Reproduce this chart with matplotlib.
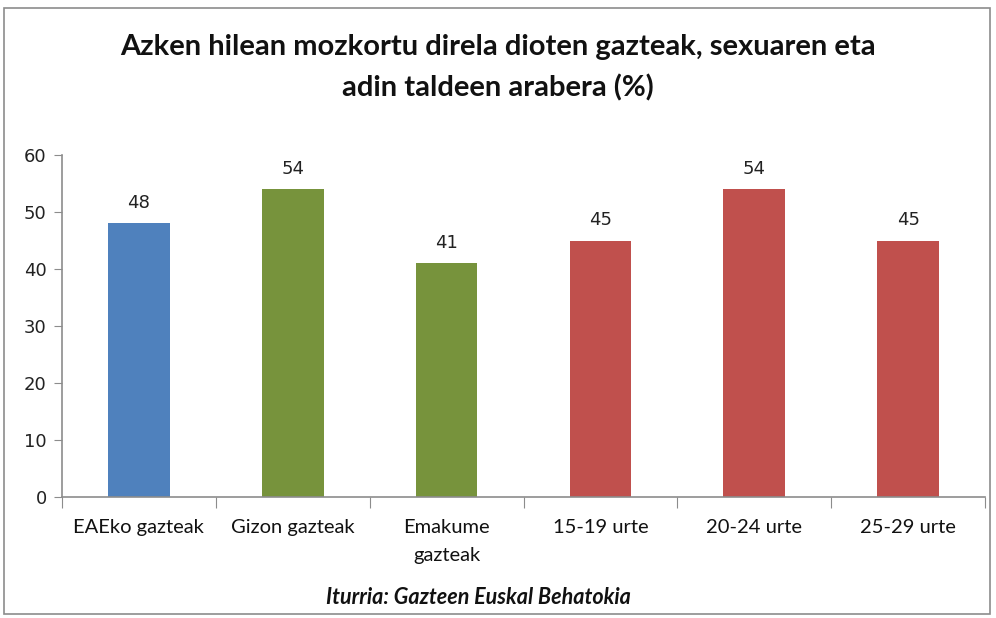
import matplotlib
matplotlib.use("Agg")
import matplotlib.pyplot as plt
from matplotlib.patches import Rectangle

categories = ["EAEko gazteak", "Gizon gazteak", "Emakume\ngazteak", "15-19 urte", "20-24 urte", "25-29 urte"]
values = [48, 54, 41, 45, 54, 45]
colors = ["#4F81BD", "#77933C", "#77933C", "#C0504D", "#C0504D", "#C0504D"]
yticks = [0, 10, 20, 30, 40, 50, 60]
title = "Azken hilean mozkortu direla dioten gazteak, sexuaren eta\nadin taldeen arabera (%)"
source = "Iturria: Gazteen Euskal Behatokia"

W, H = 996, 618
fig = plt.figure(figsize=(W / 100, H / 100), dpi=100)
fig.patch.set_facecolor("white")

# outer frame
fig.add_artist(Rectangle((4 / W, 4 / H), (W - 10) / W, (H - 12) / H, transform=fig.transFigure,
                         fill=False, edgecolor="#8c8c8c", linewidth=1.2))

x0, x1 = 62, 985
y0, y1 = 497, 155
ax = fig.add_axes([x0 / W, 1 - y0 / H, (x1 - x0) / W, (y0 - y1) / H])
pos = list(range(len(categories)))
ax.bar(pos, values, width=0.4, color=colors, zorder=2)
ax.set_xlim(-0.5, len(categories) - 0.5)
ax.set_ylim(0, 60)
ax.set_yticks(yticks)
ax.set_yticklabels([str(t) for t in yticks], fontsize=13, family="DejaVu Sans", color="#222222")

# category boundary ticks on x axis
ax.set_xticks([p - 0.5 for p in pos] + [len(categories) - 0.5])
ax.set_xticklabels([])
ax.tick_params(axis="x", length=8, color="#8c8c8c", direction="out")
ax.tick_params(axis="y", length=6, color="#8c8c8c", direction="out", pad=5)
for s in ["top", "right"]:
    ax.spines[s].set_visible(False)
for s in ["left", "bottom"]:
    ax.spines[s].set_color("#8c8c8c")
    ax.spines[s].set_linewidth(1.2)

for p, lab in zip(pos, categories):
    ax.text(p, -3.9, lab, ha="center", va="top", fontsize=14.5,
            family=["Lato", "DejaVu Sans"], color="#111111",
            linespacing=1.75, transform=ax.transData)

for p, v in zip(pos, values):
    ax.text(p, v + 2.0, str(v), ha="center", va="bottom", fontsize=13,
            family="DejaVu Sans", color="#222222")

fig.text(0.5, 1 - 68 / H, title, ha="center", va="center", fontsize=21, fontweight="bold",
         family=["Lato", "DejaVu Sans"], linespacing=1.65, color="#111111")
fig.text(478 / W, 1 - 598 / H, source, ha="center", va="center",
         fontsize=15.5, fontweight="bold", fontstyle="italic",
         family=["Lato", "DejaVu Sans"], color="#111111")

fig.savefig("out.png", dpi=100, facecolor="white")
